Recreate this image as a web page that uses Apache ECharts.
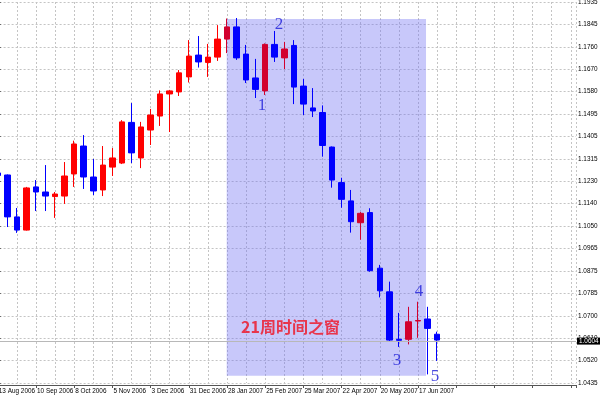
<!DOCTYPE html>
<html>
<head>
<meta charset="utf-8">
<script src="https://cdn.jsdelivr.net/npm/echarts@6/dist/echarts.min.js"></script>
<style>html,body{margin:0;padding:0;background:#fff}#c{width:600px;height:400px}</style>
</head>
<body>
<div id="c"></div>
<script>
// weekly bars (week start dates)
const weeks = ['13 Aug 2006','20 Aug 2006','27 Aug 2006','3 Sep 2006','10 Sep 2006','17 Sep 2006','24 Sep 2006','1 Oct 2006','8 Oct 2006','15 Oct 2006','22 Oct 2006','29 Oct 2006','5 Nov 2006','12 Nov 2006','19 Nov 2006','26 Nov 2006','3 Dec 2006','10 Dec 2006','17 Dec 2006','24 Dec 2006','31 Dec 2006','7 Jan 2007','14 Jan 2007','21 Jan 2007','28 Jan 2007','4 Feb 2007','11 Feb 2007','18 Feb 2007','25 Feb 2007','4 Mar 2007','11 Mar 2007','18 Mar 2007','25 Mar 2007','1 Apr 2007','8 Apr 2007','15 Apr 2007','22 Apr 2007','29 Apr 2007','6 May 2007','13 May 2007','20 May 2007','27 May 2007','3 Jun 2007','10 Jun 2007','17 Jun 2007','24 Jun 2007','1 Jul 2007'];
const opens  = [1.1262,1.1254,1.1089,1.1037,1.1207,1.1187,1.1169,1.1171,1.1258,1.1368,1.1246,1.1195,1.1285,1.1301,1.1461,1.1321,1.1431,1.1486,1.1573,1.1581,1.1640,1.1726,1.1697,1.1718,1.1789,1.1837,1.1730,1.1636,1.1585,1.1768,1.1715,1.1764,1.1604,1.1518,1.1500,1.1364,1.1224,1.1152,1.1066,1.1106,1.0887,1.0794,1.0607,1.0607,1.0679,1.0687,1.0627];
const closes = [1.1252,1.1089,1.1037,1.1203,1.1187,1.1171,1.1179,1.1250,1.1376,1.1246,1.1191,1.1293,1.1321,1.1463,1.1341,1.1443,1.1490,1.1573,1.1585,1.1656,1.1722,1.1699,1.1718,1.1789,1.1837,1.1715,1.1628,1.1591,1.1768,1.1718,1.1750,1.1600,1.1533,1.1506,1.1370,1.1234,1.1158,1.1070,1.1103,1.0877,1.0798,1.0604,1.0603,1.0676,1.0681,1.0650,1.0604];
const lows   = [1.1240,1.1049,1.1026,1.1035,1.1112,1.1112,1.1085,1.1140,1.1207,1.1199,1.1175,1.1171,1.1250,1.1297,1.1301,1.1281,1.1372,1.1447,1.1423,1.1565,1.1618,1.1677,1.1640,1.1703,1.1734,1.1707,1.1616,1.1557,1.1569,1.1699,1.1671,1.1533,1.1490,1.1482,1.1326,1.1204,1.1125,1.1027,1.0999,1.0873,1.0772,1.0598,1.0577,1.0587,1.0613,1.0469,1.0522];
const highs  = [1.1275,1.1256,1.1124,1.1207,1.1234,1.1293,1.1187,1.1305,1.1389,1.1411,1.1317,1.1368,1.1360,1.1470,1.1537,1.1463,1.1514,1.1587,1.1589,1.1667,1.1785,1.1801,1.1770,1.1844,1.1870,1.1872,1.1766,1.1711,1.1772,1.1821,1.1778,1.1785,1.1632,1.1596,1.1528,1.1366,1.1243,1.1195,1.1108,1.1123,1.0900,1.0834,1.0711,1.0735,1.0755,1.0735,1.0637];
const priceTicks = ['1.0435','1.0520','1.0610','1.0700','1.0785','1.0875','1.0965','1.1050','1.1140','1.1230','1.1315','1.1405','1.1495','1.1580','1.1670','1.1760','1.1845','1.1935'];
const priceMin = 1.0435, priceMax = 1.1935;
const currentPrice = 1.0604;
// 21-week time window (bar index range, price range)
const windowWeeks = [23.97, 44.84];
const windowPrices = [1.0464, 1.1868];
// wave labels anchored in data space: [bar index, price, text]
const waveLabels = [[27.66,1.1526,'1'],[29.45,1.1848,'2'],[41.80,1.0522,'3'],[44.10,1.0797,'4'],[45.78,1.0459,'5']];
const windowTitle = [25.47, 1.0656, '21周时间之窗'];

const UP = '#ff0000', UP_IN = '#d2002e', DOWN = '#0000ff';
const candles = weeks.map((w, i) => {
  const inWin = i >= windowWeeks[0] && i <= windowWeeks[1];
  const item = { value: [i, opens[i], closes[i], lows[i], highs[i]] };
  if (inWin && closes[i] > opens[i]) item.itemStyle = { color: UP_IN, borderColor: UP_IN };
  return item;
});

const xMin = -4, xMax = 60.545;
const gridDash = { color: '#c4c4c4', type: [2, 2], width: 1 };
const axisFont = '"Liberation Sans",Arial,sans-serif';

const chart = echarts.init(document.getElementById('c'), null, { renderer: 'canvas' });
chart.setOption({
  animation: false,
  backgroundColor: '#ffffff',
  grid: { left: -40.4, right: 24, top: 2, bottom: 17, containLabel: false, outerBoundsMode: 'none' },
  xAxis: [
    { type: 'value', position: 'top', min: xMin, max: xMax, interval: 2,
      axisLine: { show: false }, axisTick: { show: false }, axisLabel: { show: false },
      splitLine: { show: true, lineStyle: gridDash } },
    { type: 'value', position: 'bottom', min: xMin, max: xMax, interval: 4, offset: 2,
      axisLine: { show: true, lineStyle: { color: '#555', width: 1 } },
      axisTick: { show: true, length: 3, lineStyle: { color: '#555' } },
      splitLine: { show: false },
      axisLabel: { show: true, fontSize: 6.4, fontFamily: axisFont, color: '#000', align: 'left', margin: 3,
        padding: [0, 0, 0, 1],
        formatter: v => (Number.isInteger(v) && v >= 0 && v % 4 === 0 && weeks[v]) ? weeks[v] : '' } }
  ],
  yAxis: [
    { type: 'value', position: 'left', min: priceMin, max: priceMax, show: false },
    { type: 'value', position: 'right', min: 0, max: priceTicks.length - 1, interval: 1,
      axisLine: { show: true, lineStyle: { color: '#555', width: 1 } },
      axisTick: { show: true, length: 3, lineStyle: { color: '#555' } },
      splitLine: { show: true, lineStyle: gridDash },
      axisLabel: { show: true, fontSize: 6.4, fontFamily: axisFont, color: '#000', margin: 2,
        formatter: v => priceTicks[Math.round(v)] || '' } }
  ],
  series: [
    { type: 'line', xAxisIndex: 0, yAxisIndex: 0, data: [], z: 1, silent: true,
      markArea: { silent: true, itemStyle: { color: 'rgba(118,118,243,0.40)' },
        data: [[{ xAxis: windowWeeks[0], yAxis: windowPrices[1] }, { xAxis: windowWeeks[1], yAxis: windowPrices[0] }]] },
      markLine: { silent: true, symbol: ['none', 'none'], animation: false,
        lineStyle: { color: '#b8b8b8', type: 'solid', width: 1 },
        label: { show: true, position: 'end', distance: 1, formatter: currentPrice.toFixed(4),
          color: '#fff', backgroundColor: '#000', fontSize: 6.4, fontFamily: axisFont, padding: [1, 2, 0, 2] },
        data: [{ yAxis: currentPrice }] } },
    { type: 'candlestick', xAxisIndex: 0, yAxisIndex: 0, z: 2, barWidth: 6,
      encode: { x: 0, y: [1, 2, 3, 4] },
      itemStyle: { color: UP, color0: DOWN, borderColor: UP, borderColor0: DOWN, borderWidth: 1 },
      data: candles },
    { type: 'scatter', xAxisIndex: 0, yAxisIndex: 0, z: 5, symbolSize: 0, silent: true,
      data: waveLabels,
      label: { show: true, position: 'inside', formatter: p => p.data[2],
        fontFamily: '"Liberation Serif","DejaVu Serif",serif', fontSize: 17, color: '#1c1cd8' } },
    { type: 'scatter', xAxisIndex: 0, yAxisIndex: 0, z: 5, symbolSize: 0, silent: true,
      data: [windowTitle],
      label: { show: true, position: 'inside', align: 'left', formatter: p => p.data[2],
        fontFamily: '"Noto Sans CJK SC",sans-serif', fontWeight: 'bold', fontSize: 16, color: '#f01020' } }
  ]
});
</script>
</body>
</html>
